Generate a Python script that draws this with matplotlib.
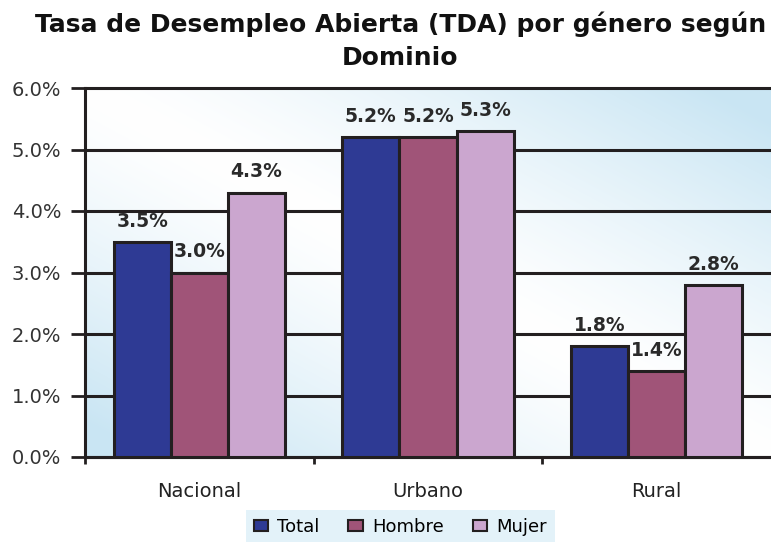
import matplotlib.pyplot as plt
import numpy as np
from matplotlib.patches import Patch

# chart data
dominios = ["Nacional", "Urbano", "Rural"]
series = ["Total", "Hombre", "Mujer"]
total = [3.5, 5.2, 1.8]
hombre = [3.0, 5.2, 1.4]
mujer = [4.3, 5.3, 2.8]
y_ticks = [0.0, 1.0, 2.0, 3.0, 4.0, 5.0, 6.0]

colors = ["#2E3A94", "#A05478", "#CBA6CF"]
dark = "#231F20"

plt.rcParams["font.family"] = ["DejaVu Sans"]

fig = plt.figure(figsize=(7.71, 5.42), dpi=100)
ax = fig.add_axes([85 / 771, 1 - 457 / 542, 1 - 85 / 771, (457 - 88) / 542])

# light blue diagonal gradient background
u, v = np.meshgrid(np.linspace(0, 1, 200), np.linspace(1, 0, 200))
t = np.clip(np.abs(u + v - 1.0) * 1.1, 0, 1) ** 1.3
blue = np.array([0.79, 0.90, 0.955])
white = np.array([1.0, 1.0, 1.0])
grad = white * (1 - t[..., None]) + blue * t[..., None]
ax.imshow(grad, extent=(0, 1, 0, 1), transform=ax.transAxes,
          aspect="auto", zorder=0, interpolation="bicubic")

x = np.arange(len(dominios))
w = 0.25
for i, (name, vals) in enumerate(zip(series, [total, hombre, mujer])):
    pos = x + (i - 1) * w
    bars = ax.bar(pos, vals, w, color=colors[i], edgecolor=dark,
                  linewidth=2.2, zorder=3, label=name)
    for b, val in zip(bars, vals):
        ax.annotate(f"{val:.1f}%", (b.get_x() + b.get_width() / 2, val),
                    xytext=(0, 8), textcoords="offset points",
                    ha="center", va="bottom", fontsize=13.5,
                    fontweight="bold", color="#2a2a2a", zorder=4)

ax.set_xlim(-0.5, 2.5)
ax.set_ylim(0, 6.0)
ax.set_yticks(y_ticks)
ax.set_yticklabels([f"{v:.1f}%" for v in y_ticks], fontsize=14,
                   color="#333333")
ax.set_xticks([-0.5, 0.5, 1.5])
ax.set_xticklabels([])
ax.set_xticks(x, minor=True)
ax.set_xticklabels(dominios, minor=True, fontsize=14, color="#222222")
ax.tick_params(axis="x", which="minor", length=0, pad=18)
ax.tick_params(axis="x", which="major", length=5, width=2, color=dark,
               direction="out")
ax.tick_params(axis="y", length=10, width=2, color=dark, pad=7)

ax.grid(axis="y", color=dark, linewidth=2.2, zorder=1)
for gl in ax.get_ygridlines():
    gl.set_clip_on(False)
ax.set_axisbelow(False)

for s in ["top", "right"]:
    ax.spines[s].set_visible(False)
for s in ["left", "bottom"]:
    ax.spines[s].set_color(dark)
    ax.spines[s].set_linewidth(2.2)
    ax.spines[s].set_zorder(2)

fig.text(0.519, 0.978,
         "Tasa de Desempleo Abierta (TDA) por género según\nDominio",
         ha="center", va="top", fontsize=18, fontweight="bold",
         color="#111111", linespacing=1.45)

handles = [Patch(facecolor=c, edgecolor=dark, linewidth=1.5) for c in colors]
leg = fig.legend(handles, series, loc="lower center",
                 bbox_to_anchor=(0.519, -0.02), ncol=3, fontsize=13,
                 frameon=True, fancybox=False, handlelength=0.8,
                 handleheight=0.6, handletextpad=0.5, columnspacing=1.6,
                 borderpad=0.45)
leg.get_frame().set_facecolor("#DDEFF8")
leg.get_frame().set_edgecolor("none")

fig.savefig("out.png", dpi=100)
